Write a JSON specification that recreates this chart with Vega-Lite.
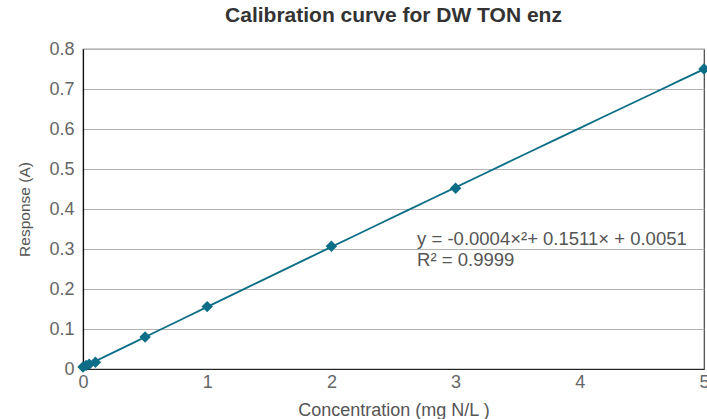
{
  "$schema": "https://vega.github.io/schema/vega-lite/v6.json",
  "width": 621,
  "height": 320,
  "autosize": {"type": "none"},
  "padding": {"left": 83, "top": 49, "right": 3, "bottom": 50},
  "title": {
    "text": "Calibration curve for DW TON enz",
    "font": "Liberation Sans",
    "fontSize": 21,
    "fontWeight": "bold",
    "color": "#333333",
    "offset": 14,
    "anchor": "middle"
  },
  "config": {
    "view": {"stroke": "#444444", "strokeWidth": 1.2},
    "font": "Liberation Sans"
  },
  "datasets": {
    "pts": [
      {"conc": 0, "resp": 0.005},
      {"conc": 0.025, "resp": 0.009},
      {"conc": 0.05, "resp": 0.012},
      {"conc": 0.1, "resp": 0.017},
      {"conc": 0.5, "resp": 0.08},
      {"conc": 1, "resp": 0.156},
      {"conc": 2, "resp": 0.307},
      {"conc": 3, "resp": 0.452},
      {"conc": 5, "resp": 0.75}
    ],
    "labels": [
      {"conc": 2.69, "resp": 0.31, "label": "y = -0.0004×²+ 0.1511× + 0.0051"},
      {"conc": 2.69, "resp": 0.258, "label": "R² = 0.9999"}
    ]
  },
  "layer": [
    {
      "data": {"name": "pts"},
      "transform": [
        {"regression": "resp", "on": "conc", "method": "poly", "order": 2, "extent": [0, 5]}
      ],
      "mark": {"type": "line", "color": "#0b6e86", "strokeWidth": 1.8, "clip": true},
      "encoding": {
        "x": {
          "field": "conc", "type": "quantitative",
          "scale": {"domain": [0, 5], "nice": false},
          "axis": {
            "title": "Concentration (mg N/L )",
            "titleFont": "Liberation Sans", "titleFontSize": 18, "titleFontWeight": "normal",
            "titleColor": "#555555", "titlePadding": 10,
            "labelFont": "Liberation Sans", "labelFontSize": 18, "labelColor": "#666666",
            "values": [0, 1, 2, 3, 4, 5], "tickCount": 6, "format": "d",
            "labelFlush": false, "labelOverlap": false,
            "ticks": false, "labelPadding": 4, "grid": false,
            "domainColor": "#222222", "domainWidth": 1.2
          }
        },
        "y": {
          "field": "resp", "type": "quantitative",
          "scale": {"domain": [0, 0.8], "nice": false},
          "axis": {
            "title": "Response (A)",
            "titleFont": "Liberation Sans", "titleFontSize": 15.5, "titleFontWeight": "normal",
            "titleColor": "#555555", "titlePadding": 16,
            "labelFont": "Liberation Sans", "labelFontSize": 18, "labelColor": "#666666",
            "values": [0, 0.1, 0.2, 0.3, 0.4, 0.5, 0.6, 0.7, 0.8],
            "tickCount": 9,
            "labelExpr": "datum.value == 0 ? '0' : format(datum.value, '.1f')",
            "labelFlush": false, "labelOverlap": false,
            "ticks": false, "labelPadding": 9,
            "grid": true, "gridColor": "#b3b3b3", "gridWidth": 1,
            "domainColor": "#111111", "domainWidth": 1.2
          }
        }
      }
    },
    {
      "data": {"name": "pts"},
      "mark": {"type": "point", "shape": "diamond", "filled": true, "color": "#0b6e86", "size": 130, "opacity": 1, "clip": false},
      "encoding": {
        "x": {"field": "conc", "type": "quantitative"},
        "y": {"field": "resp", "type": "quantitative"}
      }
    },
    {
      "data": {"name": "labels"},
      "mark": {"type": "text", "align": "left", "baseline": "alphabetic", "font": "Liberation Sans", "fontSize": 18.5, "color": "#555555"},
      "encoding": {
        "x": {"field": "conc", "type": "quantitative"},
        "y": {"field": "resp", "type": "quantitative"},
        "text": {"field": "label"}
      }
    }
  ]
}
